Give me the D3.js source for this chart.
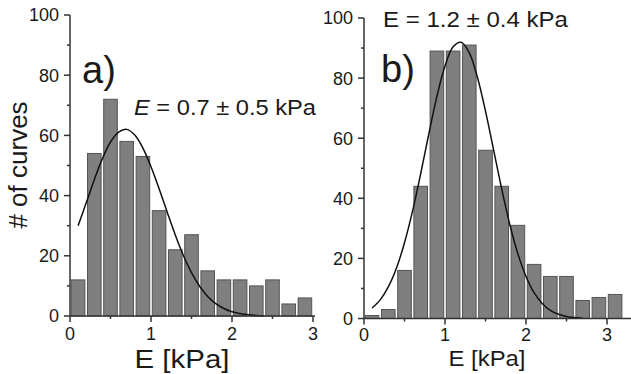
<!DOCTYPE html>
<html>
<head>
<meta charset="utf-8">
<script src="https://cdn.jsdelivr.net/npm/d3@7"></script>
<style>
html,body{margin:0;padding:0;background:#fff;}
svg{display:block;}
text{font-family:"Liberation Sans",Arial,sans-serif;fill:#1a1a1a;}
</style>
</head>
<body>
<svg id="chart" width="631" height="374"></svg>
<script>
// ---- data ----
const binsA = [0,0.2,0.4,0.6,0.8,1.0,1.2,1.4,1.6,1.8,2.0,2.2,2.4,2.6,2.8];
const countsA = [12,54,72,58,53,35,22,27,15,12,12,10,12,4,6];
const binsB = [0,0.2,0.4,0.6,0.8,1.0,1.2,1.4,1.6,1.8,2.0,2.2,2.4,2.6,2.8,3.0];
const countsB = [1,3,16,44,89,89,91,56,44,31,18,14,14,6,7,8];
const binWidth = 0.2;

const fitXA = [0.1,0.2,0.3,0.4,0.5,0.6,0.7,0.8,0.9,1.0,1.1,1.2,1.3,1.4,1.5,1.6,1.7,1.8,1.9,2.0,2.1,2.2,2.3,2.4];
const fitYA = [30,37.6,45.3,52.3,57.8,61.1,62,60.1,55.8,49.6,42.3,34.5,26.9,20.1,14.4,9.9,6.5,4.1,2.5,1.4,0.8,0.4,0.2,0.1];
const fitXB = [0.1,0.2,0.3,0.4,0.5,0.6,0.7,0.8,0.9,1.0,1.1,1.2,1.3,1.4,1.5,1.6,1.7,1.8,1.9,2.0,2.1,2.2,2.3,2.4,2.5,2.6,2.7];
const fitYB = [3.5,6.2,10.5,16.7,25.2,35.8,48.2,61.4,73.9,84.0,90.4,91.9,88.4,80.3,69.0,56.1,43.1,31.3,21.5,14.0,8.6,5.0,2.7,1.4,0.7,0.3,0.1];

const xTicks = [0,1,2,3];
const yTicks = [0,20,40,60,80,100];
const yLabel = "# of curves";
const xLabel = "E [kPa]";

// ---- drawing ----
const svg = d3.select("#chart");

function panel(opt){
  const g = svg.append("g");
  const x = d3.scaleLinear().domain([0,3]).range([opt.x0, opt.x3]);
  const y = d3.scaleLinear().domain([0,100]).range([opt.yb, opt.yt]);
  const inset = 1.3;

  // bars
  g.selectAll("rect.bar").data(opt.bins.map((b,i)=>({b, v:opt.counts[i]})))
    .enter().append("rect")
    .attr("x", d => x(d.b) + inset)
    .attr("width", d => x(d.b + binWidth) - x(d.b) - 2*inset)
    .attr("y", d => y(d.v))
    .attr("height", d => y(0) - y(d.v))
    .attr("fill", "#7f7f7f")
    .attr("stroke", "#555")
    .attr("stroke-width", 1);

  // fit curve
  const line = d3.line().x(d=>x(d[0])).y(d=>y(d[1])).curve(d3.curveCatmullRom);
  g.append("path")
    .attr("d", line(opt.fx.map((v,i)=>[v, opt.fy[i]])))
    .attr("fill","none").attr("stroke","#111").attr("stroke-width",1.5);

  // axes
  const axCol = "#333";
  g.append("line").attr("x1", x(0)).attr("x2", opt.xEnd)
    .attr("y1", y(0)).attr("y2", y(0)).attr("stroke", axCol).attr("stroke-width", 1.5);
  g.append("line").attr("x1", x(0)).attr("x2", x(0))
    .attr("y1", y(0)).attr("y2", y(100)).attr("stroke", axCol).attr("stroke-width", 1.5);

  // x ticks
  const xMinor = d3.range(0.5, opt.xMaxTick, 1);
  g.selectAll("line.xmaj").data(xTicks).enter().append("line")
    .attr("x1", d=>x(d)).attr("x2", d=>x(d)).attr("y1", y(0)).attr("y2", y(0)+6)
    .attr("stroke", axCol).attr("stroke-width", 1.5);
  g.selectAll("line.xmin").data(xMinor).enter().append("line")
    .attr("x1", d=>x(d)).attr("x2", d=>x(d)).attr("y1", y(0)).attr("y2", y(0)+3)
    .attr("stroke", axCol).attr("stroke-width", 1.5);
  g.selectAll("text.xt").data(xTicks).enter().append("text")
    .attr("x", d=>x(d)).attr("y", opt.xtY)
    .attr("text-anchor","middle").attr("font-size", 18).text(d=>d);

  // y ticks
  const yMinor = d3.range(10, 100, 20);
  g.selectAll("line.ymaj").data(yTicks).enter().append("line")
    .attr("x1", x(0)-6).attr("x2", x(0)).attr("y1", d=>y(d)).attr("y2", d=>y(d))
    .attr("stroke", axCol).attr("stroke-width", 1.5);
  g.selectAll("line.ymin").data(yMinor).enter().append("line")
    .attr("x1", x(0)-3).attr("x2", x(0)).attr("y1", d=>y(d)).attr("y2", d=>y(d))
    .attr("stroke", axCol).attr("stroke-width", 1.5);
  g.selectAll("text.yt").data(yTicks).enter().append("text")
    .attr("x", x(0)-11).attr("y", d=>y(d)).attr("dy","0.36em")
    .attr("text-anchor","end").attr("font-size", 18).text(d=>d);

  // x label
  g.append("text").attr("x", opt.xlX).attr("y", opt.xlY)
    .attr("text-anchor","middle").attr("font-size", opt.xlSize)
    .attr("textLength", opt.xlLen).attr("lengthAdjust","spacingAndGlyphs").text(xLabel);

  // panel letter
  g.append("text").attr("x", opt.letX).attr("y", opt.letY)
    .attr("font-size", 38).text(opt.letter);

  // annotation
  const t = g.append("text").attr("x", opt.anX).attr("y", opt.anY)
    .attr("font-size", 22).attr("textLength", opt.anLen).attr("lengthAdjust","spacingAndGlyphs");
  t.append("tspan").attr("font-style", opt.italic ? "italic" : "normal").text("E");
  t.append("tspan").text(opt.anText);
  return {x,y};
}

panel({x0:70, x3:313, xEnd:315, yb:316, yt:15, bins:binsA, counts:countsA, fx:fitXA, fy:fitYA,
  xMaxTick:3, xtY:340, xlX:182, xlY:368, xlSize:26, xlLen:95, letter:"a)", letX:82, letY:83,
  anX:134, anY:115, anLen:182, anText:" = 0.7 \u00B1 0.5 kPa", italic:true});
panel({x0:364, x3:607, xEnd:631, yb:318.5, yt:18, bins:binsB, counts:countsB, fx:fitXB, fy:fitYB,
  xMaxTick:3.3, xtY:340.5, xlX:487, xlY:365.5, xlSize:22, xlLen:77, letter:"b)", letX:381, letY:82,
  anX:383, anY:27, anLen:185, anText:" = 1.2 \u00B1 0.4 kPa", italic:false});

// y axis label
svg.append("text").attr("transform","translate(27,165) rotate(-90)")
  .attr("text-anchor","middle").attr("font-size", 26).text(yLabel);
</script>
</body>
</html>
